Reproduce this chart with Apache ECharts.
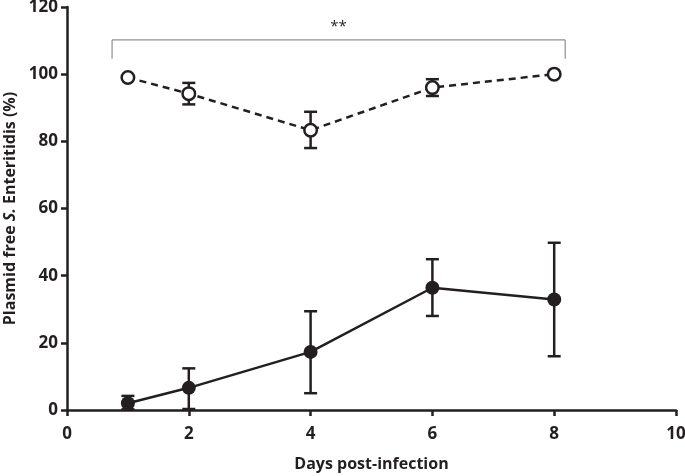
<!DOCTYPE html>
<html>
<head>
<meta charset="utf-8">
<script src="https://cdn.jsdelivr.net/npm/echarts@6/dist/echarts.min.js"></script>
<style>
  html, body { margin: 0; padding: 0; background: #fff; }
  #chart { width: 685px; height: 476px; }
</style>
</head>
<body>
<div id="chart"></div>
<script>
// days sampled
var days = [1, 2, 4, 6, 8];

// open circles (dashed line)
var openMean = [99, 94.2, 83.3, 96, 100];
var openLow = [99, 91, 78, 93.5, 100];
var openHigh = [99, 97.4, 88.8, 98.5, 100];

// filled circles (solid line)
var filledMean = [2, 6.6, 17.3, 36.4, 32.9];
var filledLow = [0.2, 0.3, 5, 28, 16];
var filledHigh = [4.2, 12.4, 29.4, 44.9, 49.8];

var xTicks = [0, 2, 4, 6, 8, 10];
var yTicks = [0, 20, 40, 60, 80, 100, 120];

// significance bracket: from day, to day, top y, end y
var bracket = [0.74, 8.18, 110.2, 104.6];
var bracketLabel = '**';

var ink = '#231f20';
var font = 'Open Sans';

function pairs(xs, ys) {
    return xs.map(function (x, i) { return [x, ys[i]]; });
}

function errData(lo, hi) {
    return days.map(function (d, i) { return [d, lo[i], hi[i]]; });
}

function errorBars(params, api) {
    var x = api.value(0);
    var lo = api.coord([x, api.value(1)]);
    var hi = api.coord([x, api.value(2)]);
    if (Math.abs(lo[1] - hi[1]) < 1) return null;
    var half = 6.5;
    var st = { stroke: ink, lineWidth: 2.5 };
    return {
        type: 'group',
        children: [
            { type: 'line', shape: { x1: hi[0], y1: hi[1], x2: lo[0], y2: lo[1] }, style: st },
            { type: 'line', shape: { x1: hi[0] - half, y1: hi[1], x2: hi[0] + half, y2: hi[1] }, style: st },
            { type: 'line', shape: { x1: lo[0] - half, y1: lo[1], x2: lo[0] + half, y2: lo[1] }, style: st }
        ]
    };
}

var chart = echarts.init(document.getElementById('chart'));

var option = {
    animation: false,
    backgroundColor: '#fff',
    grid: { left: 67, right: 9, top: 7, bottom: 66, containLabel: false, outerBoundsMode: 'none' },
    xAxis: {
        type: 'value',
        min: xTicks[0],
        max: xTicks[xTicks.length - 1],
        interval: 2,
        name: 'Days post-infection',
        nameLocation: 'middle',
        nameGap: 46,
        nameTextStyle: { color: ink, fontFamily: font, fontWeight: 'bold', fontSize: 16 },
        axisLine: { onZero: false, lineStyle: { color: ink, width: 2.5 } },
        axisTick: { length: 6, lineStyle: { color: ink, width: 2.5 } },
        axisLabel: { color: ink, fontFamily: font, fontWeight: 'bold', fontSize: 17, margin: 16 },
        splitLine: { show: false }
    },
    yAxis: {
        type: 'value',
        min: yTicks[0],
        max: yTicks[yTicks.length - 1],
        interval: 20,
        name: '{n|Plasmid free }{i|S.}{n| Enteritidis (%)}',
        nameLocation: 'middle',
        nameGap: 41,
        nameTextStyle: {
            color: ink,
            rich: {
                n: { color: ink, fontFamily: font, fontWeight: 'bold', fontSize: 16 },
                i: { color: ink, fontFamily: font, fontWeight: 'bold', fontStyle: 'italic', fontSize: 16 }
            }
        },
        axisLine: { show: true, lineStyle: { color: ink, width: 2.5 } },
        axisTick: { show: true, length: 6, lineStyle: { color: ink, width: 2.5 } },
        axisLabel: { color: ink, fontFamily: font, fontWeight: 'bold', fontSize: 17, margin: 9 },
        splitLine: { show: false }
    },
    series: [
        {
            type: 'custom',
            renderItem: errorBars,
            data: errData(openLow, openHigh),
            z: 2
        },
        {
            type: 'custom',
            renderItem: errorBars,
            data: errData(filledLow, filledHigh),
            z: 2
        },
        {
            type: 'line',
            data: pairs(days, openMean),
            symbol: 'circle',
            symbolSize: 12.5,
            lineStyle: { color: ink, width: 2.5, type: [7, 5] },
            itemStyle: { color: '#fff', borderColor: ink, borderWidth: 2.5 },
            z: 3
        },
        {
            type: 'line',
            data: pairs(days, filledMean),
            symbol: 'circle',
            symbolSize: 14,
            lineStyle: { color: ink, width: 2.5 },
            itemStyle: { color: ink },
            z: 3
        },
        {
            type: 'custom',
            data: [bracket],
            renderItem: function (params, api) {
                var a = api.coord([api.value(0), api.value(3)]);
                var b = api.coord([api.value(0), api.value(2)]);
                var c = api.coord([api.value(1), api.value(2)]);
                var d = api.coord([api.value(1), api.value(3)]);
                return {
                    type: 'group',
                    children: [
                        {
                            type: 'polyline',
                            shape: { points: [a, b, c, d] },
                            style: { stroke: '#777', lineWidth: 1, fill: null }
                        },
                        {
                            type: 'text',
                            x: (b[0] + c[0]) / 2,
                            y: b[1] - 6,
                            style: {
                                text: bracketLabel,
                                fill: ink,
                                font: '15px ' + font,
                                align: 'center',
                                verticalAlign: 'bottom'
                            }
                        }
                    ]
                };
            }
        }
    ]
};

chart.setOption(option);
</script>
</body>
</html>
